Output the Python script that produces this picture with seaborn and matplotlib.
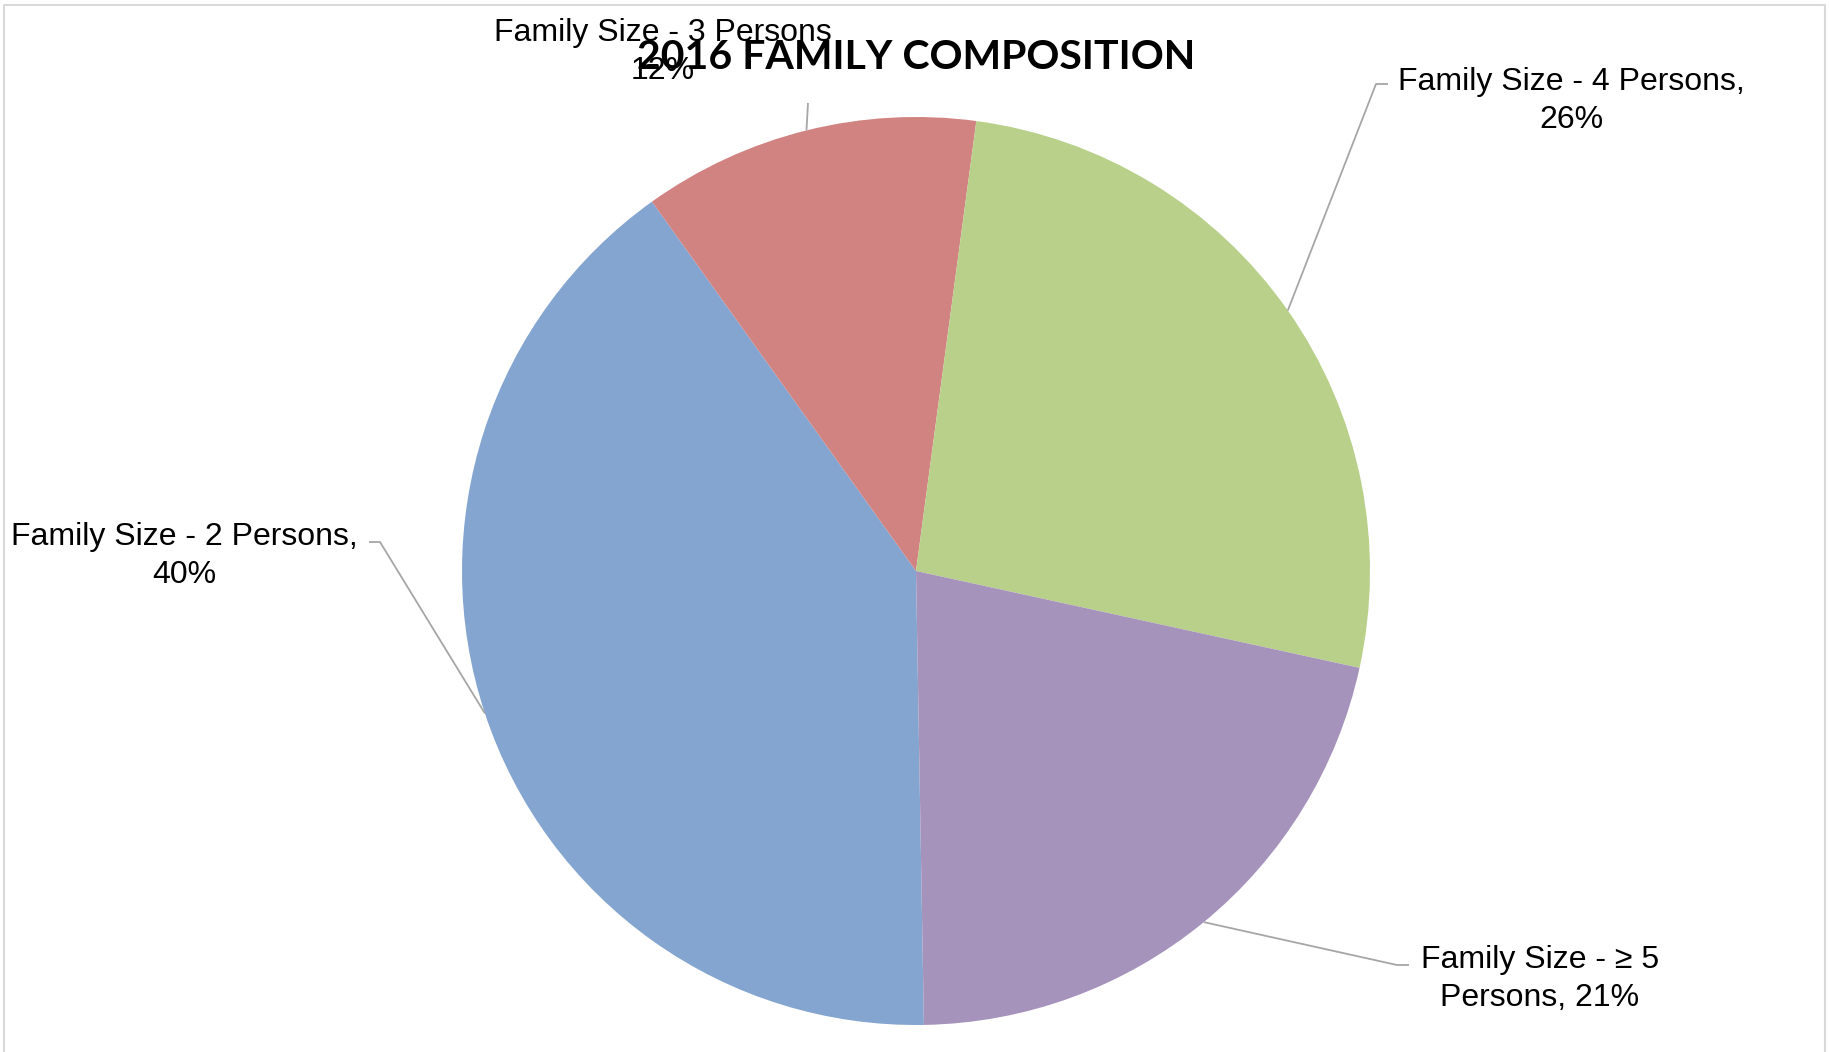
import numpy as np
import seaborn as sns
import matplotlib
import matplotlib.pyplot as plt

sns.set_style('white')
matplotlib.rcParams['font.family'] = ['Liberation Sans', 'DejaVu Sans']

# data (order as drawn clockwise from the 2-person slice)
categories = ['Family Size - 2 Persons', 'Family Size - 3 Persons',
              'Family Size - 4 Persons', 'Family Size - \u2265 5 Persons']
shares = [40.4, 12.0, 26.3, 21.3]
pct_labels = ['40%', '12%', '26%', '21%']
colors = ['#84A5D0', '#D18381', '#B9D08B', '#A693BC']

W, H = 1829, 1052
CX, CY, R = 916, 571, 454


def px(x, y):
    # pixel position -> data coords (pie radius = 1)
    return (x - CX) / R, (CY - y) / R


fig = plt.figure(figsize=(W / 100, H / 100), dpi=100)
ax = fig.add_axes([0, 0, 1, 1])

wedges, _ = ax.pie(shares, colors=colors, startangle=-89, counterclock=False,
                   radius=1, center=(0, 0), frame=True,
                   wedgeprops=dict(linewidth=0))
ax.set_xlim(-CX / R, (W - CX) / R)
ax.set_ylim(-(H - CY) / R, CY / R)
ax.axis('off')

# label text blocks (pixel centre) and leader elbows
label_text = ['%s,\n%s' % (categories[0], pct_labels[0]),
              '%s\n%s' % (categories[1], pct_labels[1]),
              '%s,\n%s' % (categories[2], pct_labels[2]),
              'Family Size - \u2265 5\nPersons, %s' % pct_labels[3]]
label_pos = [(184, 556), (663, 52), (1571, 101), (1540, 979)]
elbows = [[(369, 542), (380, 542)],
          [(808, 103)],
          [(1388, 84), (1376, 84)],
          [(1409, 965), (1397, 965)]]

for w, txt, pos, elb in zip(wedges, label_text, label_pos, elbows):
    mid = np.deg2rad((w.theta1 + w.theta2) / 2)
    pts = [px(*p) for p in elb] + [(np.cos(mid), np.sin(mid))]
    xs, ys = zip(*pts)
    ax.plot(xs, ys, color='#A6A6A6', lw=1.3, solid_capstyle='butt')
    tx, ty = px(*pos)
    ax.text(tx, ty, txt, ha='center', va='center', multialignment='center',
            fontsize=23, color='black', linespacing=1.32)

tx, ty = px(916, 57)
ax.text(tx, ty, '2016 FAMILY COMPOSITION', ha='center', va='center',
        fontsize=29.5, fontweight='bold', color='black', zorder=10,
        family=['Lato', 'DejaVu Sans'])

# light chart border
fig.add_artist(plt.Line2D([4 / W, 4 / W, 1825 / W, 1825 / W],
                          [0, 1 - 5 / H, 1 - 5 / H, 0],
                          transform=fig.transFigure, color='#D9D9D9', lw=1.5))

fig.savefig('out.png', dpi=100, facecolor='white')
